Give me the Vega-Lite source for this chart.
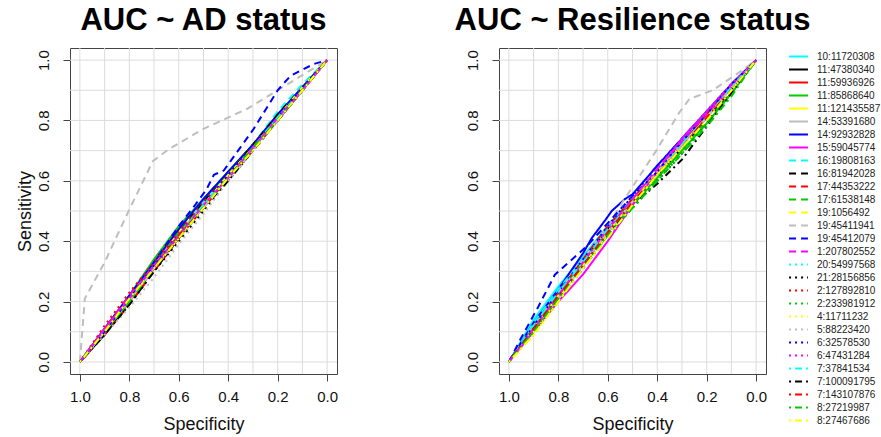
{
"$schema": "https://vega.github.io/schema/vega-lite/v6.json",
"background": "white",
"padding": {"left": 15, "top": 4, "right": 5, "bottom": 5},
"config": {
 "font": "Liberation Sans",
 "view": {"stroke": "#444", "strokeWidth": 1},
 "title": {"fontSize": 31, "fontWeight": "bold", "color": "#000", "anchor": "middle", "offset": 11, "font": "Liberation Sans"},
 "axis": {"grid": false, "domain": false, "tickColor": "#444", "tickSize": 7, "labelFontSize": 15, "labelColor": "#111", "titleFontSize": 18, "titleFontWeight": "normal", "titleColor": "#111", "labelFont": "Liberation Sans", "titleFont": "Liberation Sans"},
 "legend": {"symbolType": "M-2.1,0H2.1", "symbolSize": 81, "symbolStrokeWidth": 2, "labelFontSize": 10, "labelColor": "#222", "labelFont": "Liberation Sans", "padding": 0, "rowPadding": 2, "labelOffset": 13, "orient": "none", "legendX": 723, "legendY": 3}
},
"datasets": {
 "grid": [{"g":0},{"g":0.1},{"g":0.2},{"g":0.3},{"g":0.4},{"g":0.5},{"g":0.6},{"g":0.7},{"g":0.8},{"g":0.9},{"g":1}],
 "ad": [
{"s":"10:11720308","x":1,"y":0},{"s":"10:11720308","x":0.9,"y":0.1},{"s":"10:11720308","x":0.8,"y":0.21},{"s":"10:11720308","x":0.7,"y":0.32},{"s":"10:11720308","x":0.6,"y":0.42},{"s":"10:11720308","x":0.5,"y":0.53},{"s":"10:11720308","x":0.4,"y":0.62},{"s":"10:11720308","x":0.3,"y":0.72},{"s":"10:11720308","x":0.2,"y":0.81},{"s":"10:11720308","x":0.1,"y":0.91},{"s":"10:11720308","x":0,"y":1},
{"s":"11:47380340","x":1,"y":0},{"s":"11:47380340","x":0.9,"y":0.09},{"s":"11:47380340","x":0.8,"y":0.2},{"s":"11:47380340","x":0.7,"y":0.31},{"s":"11:47380340","x":0.6,"y":0.42},{"s":"11:47380340","x":0.5,"y":0.52},{"s":"11:47380340","x":0.4,"y":0.61},{"s":"11:47380340","x":0.3,"y":0.71},{"s":"11:47380340","x":0.2,"y":0.8},{"s":"11:47380340","x":0.1,"y":0.9},{"s":"11:47380340","x":0,"y":1},
{"s":"11:59936926","x":1,"y":0},{"s":"11:59936926","x":0.9,"y":0.1},{"s":"11:59936926","x":0.8,"y":0.2},{"s":"11:59936926","x":0.7,"y":0.31},{"s":"11:59936926","x":0.6,"y":0.41},{"s":"11:59936926","x":0.5,"y":0.52},{"s":"11:59936926","x":0.4,"y":0.61},{"s":"11:59936926","x":0.3,"y":0.71},{"s":"11:59936926","x":0.2,"y":0.81},{"s":"11:59936926","x":0.1,"y":0.9},{"s":"11:59936926","x":0,"y":1},
{"s":"11:85868640","x":1,"y":0},{"s":"11:85868640","x":0.9,"y":0.11},{"s":"11:85868640","x":0.8,"y":0.22},{"s":"11:85868640","x":0.7,"y":0.34},{"s":"11:85868640","x":0.6,"y":0.45},{"s":"11:85868640","x":0.5,"y":0.54},{"s":"11:85868640","x":0.4,"y":0.63},{"s":"11:85868640","x":0.3,"y":0.72},{"s":"11:85868640","x":0.2,"y":0.81},{"s":"11:85868640","x":0.1,"y":0.91},{"s":"11:85868640","x":0,"y":1},
{"s":"11:121435587","x":1,"y":0},{"s":"11:121435587","x":0.9,"y":0.1},{"s":"11:121435587","x":0.8,"y":0.21},{"s":"11:121435587","x":0.7,"y":0.32},{"s":"11:121435587","x":0.6,"y":0.43},{"s":"11:121435587","x":0.5,"y":0.52},{"s":"11:121435587","x":0.4,"y":0.62},{"s":"11:121435587","x":0.3,"y":0.71},{"s":"11:121435587","x":0.2,"y":0.81},{"s":"11:121435587","x":0.1,"y":0.9},{"s":"11:121435587","x":0,"y":1},
{"s":"14:53391680","x":1,"y":0},{"s":"14:53391680","x":0.9,"y":0.1},{"s":"14:53391680","x":0.8,"y":0.2},{"s":"14:53391680","x":0.7,"y":0.31},{"s":"14:53391680","x":0.6,"y":0.42},{"s":"14:53391680","x":0.5,"y":0.51},{"s":"14:53391680","x":0.4,"y":0.61},{"s":"14:53391680","x":0.3,"y":0.71},{"s":"14:53391680","x":0.2,"y":0.8},{"s":"14:53391680","x":0.1,"y":0.9},{"s":"14:53391680","x":0,"y":1},
{"s":"14:92932828","x":1,"y":0},{"s":"14:92932828","x":0.9,"y":0.11},{"s":"14:92932828","x":0.8,"y":0.22},{"s":"14:92932828","x":0.7,"y":0.33},{"s":"14:92932828","x":0.6,"y":0.44},{"s":"14:92932828","x":0.5,"y":0.54},{"s":"14:92932828","x":0.4,"y":0.63},{"s":"14:92932828","x":0.3,"y":0.72},{"s":"14:92932828","x":0.2,"y":0.82},{"s":"14:92932828","x":0.1,"y":0.91},{"s":"14:92932828","x":0,"y":1},
{"s":"15:59045774","x":1,"y":0},{"s":"15:59045774","x":0.9,"y":0.11},{"s":"15:59045774","x":0.8,"y":0.21},{"s":"15:59045774","x":0.7,"y":0.32},{"s":"15:59045774","x":0.6,"y":0.42},{"s":"15:59045774","x":0.5,"y":0.52},{"s":"15:59045774","x":0.4,"y":0.61},{"s":"15:59045774","x":0.3,"y":0.71},{"s":"15:59045774","x":0.2,"y":0.81},{"s":"15:59045774","x":0.1,"y":0.9},{"s":"15:59045774","x":0,"y":1},
{"s":"16:19808163","x":1,"y":0},{"s":"16:19808163","x":0.9,"y":0.1},{"s":"16:19808163","x":0.8,"y":0.21},{"s":"16:19808163","x":0.7,"y":0.31},{"s":"16:19808163","x":0.6,"y":0.42},{"s":"16:19808163","x":0.5,"y":0.52},{"s":"16:19808163","x":0.4,"y":0.62},{"s":"16:19808163","x":0.3,"y":0.72},{"s":"16:19808163","x":0.2,"y":0.83},{"s":"16:19808163","x":0.1,"y":0.92},{"s":"16:19808163","x":0,"y":1},
{"s":"16:81942028","x":1,"y":0},{"s":"16:81942028","x":0.9,"y":0.1},{"s":"16:81942028","x":0.8,"y":0.21},{"s":"16:81942028","x":0.7,"y":0.32},{"s":"16:81942028","x":0.6,"y":0.43},{"s":"16:81942028","x":0.5,"y":0.53},{"s":"16:81942028","x":0.4,"y":0.62},{"s":"16:81942028","x":0.3,"y":0.72},{"s":"16:81942028","x":0.2,"y":0.82},{"s":"16:81942028","x":0.1,"y":0.91},{"s":"16:81942028","x":0,"y":1},
{"s":"17:44353222","x":1,"y":0},{"s":"17:44353222","x":0.9,"y":0.09},{"s":"17:44353222","x":0.8,"y":0.19},{"s":"17:44353222","x":0.7,"y":0.3},{"s":"17:44353222","x":0.6,"y":0.41},{"s":"17:44353222","x":0.5,"y":0.51},{"s":"17:44353222","x":0.4,"y":0.61},{"s":"17:44353222","x":0.3,"y":0.7},{"s":"17:44353222","x":0.2,"y":0.8},{"s":"17:44353222","x":0.1,"y":0.9},{"s":"17:44353222","x":0,"y":1},
{"s":"17:61538148","x":1,"y":0},{"s":"17:61538148","x":0.9,"y":0.1},{"s":"17:61538148","x":0.8,"y":0.21},{"s":"17:61538148","x":0.7,"y":0.32},{"s":"17:61538148","x":0.6,"y":0.43},{"s":"17:61538148","x":0.5,"y":0.52},{"s":"17:61538148","x":0.4,"y":0.61},{"s":"17:61538148","x":0.3,"y":0.71},{"s":"17:61538148","x":0.2,"y":0.8},{"s":"17:61538148","x":0.1,"y":0.9},{"s":"17:61538148","x":0,"y":1},
{"s":"19:1056492","x":1,"y":0},{"s":"19:1056492","x":0.9,"y":0.1},{"s":"19:1056492","x":0.8,"y":0.21},{"s":"19:1056492","x":0.7,"y":0.31},{"s":"19:1056492","x":0.6,"y":0.42},{"s":"19:1056492","x":0.5,"y":0.52},{"s":"19:1056492","x":0.4,"y":0.62},{"s":"19:1056492","x":0.3,"y":0.71},{"s":"19:1056492","x":0.2,"y":0.81},{"s":"19:1056492","x":0.1,"y":0.91},{"s":"19:1056492","x":0,"y":1},
{"s":"19:45411941","x":1,"y":0},{"s":"19:45411941","x":0.98,"y":0.21},{"s":"19:45411941","x":0.9,"y":0.33},{"s":"19:45411941","x":0.8,"y":0.505},{"s":"19:45411941","x":0.705,"y":0.665},{"s":"19:45411941","x":0.64,"y":0.705},{"s":"19:45411941","x":0.5,"y":0.772},{"s":"19:45411941","x":0.32,"y":0.84},{"s":"19:45411941","x":0.2,"y":0.9},{"s":"19:45411941","x":0.1,"y":0.95},{"s":"19:45411941","x":0,"y":1},
{"s":"19:45412079","x":1,"y":0},{"s":"19:45412079","x":0.9,"y":0.1},{"s":"19:45412079","x":0.8,"y":0.21},{"s":"19:45412079","x":0.7,"y":0.33},{"s":"19:45412079","x":0.6,"y":0.45},{"s":"19:45412079","x":0.543,"y":0.51},{"s":"19:45412079","x":0.489,"y":0.57},{"s":"19:45412079","x":0.458,"y":0.62},{"s":"19:45412079","x":0.418,"y":0.634},{"s":"19:45412079","x":0.297,"y":0.772},{"s":"19:45412079","x":0.2,"y":0.9},{"s":"19:45412079","x":0.148,"y":0.948},{"s":"19:45412079","x":0.054,"y":0.987},{"s":"19:45412079","x":0,"y":1},
{"s":"1:207802552","x":1,"y":0},{"s":"1:207802552","x":0.9,"y":0.11},{"s":"1:207802552","x":0.8,"y":0.22},{"s":"1:207802552","x":0.7,"y":0.32},{"s":"1:207802552","x":0.6,"y":0.42},{"s":"1:207802552","x":0.5,"y":0.52},{"s":"1:207802552","x":0.4,"y":0.61},{"s":"1:207802552","x":0.3,"y":0.71},{"s":"1:207802552","x":0.2,"y":0.81},{"s":"1:207802552","x":0.1,"y":0.9},{"s":"1:207802552","x":0,"y":1},
{"s":"20:54997568","x":1,"y":0},{"s":"20:54997568","x":0.9,"y":0.1},{"s":"20:54997568","x":0.8,"y":0.21},{"s":"20:54997568","x":0.7,"y":0.32},{"s":"20:54997568","x":0.6,"y":0.42},{"s":"20:54997568","x":0.5,"y":0.52},{"s":"20:54997568","x":0.4,"y":0.62},{"s":"20:54997568","x":0.3,"y":0.71},{"s":"20:54997568","x":0.2,"y":0.81},{"s":"20:54997568","x":0.1,"y":0.91},{"s":"20:54997568","x":0,"y":1},
{"s":"21:28156856","x":1,"y":0},{"s":"21:28156856","x":0.9,"y":0.09},{"s":"21:28156856","x":0.8,"y":0.19},{"s":"21:28156856","x":0.7,"y":0.3},{"s":"21:28156856","x":0.6,"y":0.4},{"s":"21:28156856","x":0.5,"y":0.5},{"s":"21:28156856","x":0.4,"y":0.6},{"s":"21:28156856","x":0.3,"y":0.7},{"s":"21:28156856","x":0.2,"y":0.8},{"s":"21:28156856","x":0.1,"y":0.9},{"s":"21:28156856","x":0,"y":1},
{"s":"2:127892810","x":1,"y":0},{"s":"2:127892810","x":0.9,"y":0.12},{"s":"2:127892810","x":0.8,"y":0.23},{"s":"2:127892810","x":0.7,"y":0.33},{"s":"2:127892810","x":0.6,"y":0.43},{"s":"2:127892810","x":0.5,"y":0.53},{"s":"2:127892810","x":0.4,"y":0.62},{"s":"2:127892810","x":0.3,"y":0.72},{"s":"2:127892810","x":0.2,"y":0.81},{"s":"2:127892810","x":0.1,"y":0.91},{"s":"2:127892810","x":0,"y":1},
{"s":"2:233981912","x":1,"y":0},{"s":"2:233981912","x":0.9,"y":0.1},{"s":"2:233981912","x":0.8,"y":0.2},{"s":"2:233981912","x":0.7,"y":0.31},{"s":"2:233981912","x":0.6,"y":0.41},{"s":"2:233981912","x":0.5,"y":0.51},{"s":"2:233981912","x":0.4,"y":0.61},{"s":"2:233981912","x":0.3,"y":0.7},{"s":"2:233981912","x":0.2,"y":0.8},{"s":"2:233981912","x":0.1,"y":0.9},{"s":"2:233981912","x":0,"y":1},
{"s":"4:11711232","x":1,"y":0},{"s":"4:11711232","x":0.9,"y":0.1},{"s":"4:11711232","x":0.8,"y":0.21},{"s":"4:11711232","x":0.7,"y":0.31},{"s":"4:11711232","x":0.6,"y":0.41},{"s":"4:11711232","x":0.5,"y":0.52},{"s":"4:11711232","x":0.4,"y":0.61},{"s":"4:11711232","x":0.3,"y":0.71},{"s":"4:11711232","x":0.2,"y":0.8},{"s":"4:11711232","x":0.1,"y":0.9},{"s":"4:11711232","x":0,"y":1},
{"s":"5:88223420","x":1,"y":0},{"s":"5:88223420","x":0.9,"y":0.09},{"s":"5:88223420","x":0.8,"y":0.18},{"s":"5:88223420","x":0.7,"y":0.28},{"s":"5:88223420","x":0.6,"y":0.39},{"s":"5:88223420","x":0.5,"y":0.49},{"s":"5:88223420","x":0.4,"y":0.6},{"s":"5:88223420","x":0.3,"y":0.7},{"s":"5:88223420","x":0.2,"y":0.8},{"s":"5:88223420","x":0.1,"y":0.9},{"s":"5:88223420","x":0,"y":1},
{"s":"6:32578530","x":1,"y":0},{"s":"6:32578530","x":0.9,"y":0.1},{"s":"6:32578530","x":0.8,"y":0.21},{"s":"6:32578530","x":0.7,"y":0.32},{"s":"6:32578530","x":0.6,"y":0.42},{"s":"6:32578530","x":0.5,"y":0.52},{"s":"6:32578530","x":0.4,"y":0.62},{"s":"6:32578530","x":0.3,"y":0.72},{"s":"6:32578530","x":0.2,"y":0.81},{"s":"6:32578530","x":0.1,"y":0.91},{"s":"6:32578530","x":0,"y":1},
{"s":"6:47431284","x":1,"y":0},{"s":"6:47431284","x":0.9,"y":0.11},{"s":"6:47431284","x":0.8,"y":0.21},{"s":"6:47431284","x":0.7,"y":0.31},{"s":"6:47431284","x":0.6,"y":0.42},{"s":"6:47431284","x":0.5,"y":0.52},{"s":"6:47431284","x":0.4,"y":0.61},{"s":"6:47431284","x":0.3,"y":0.71},{"s":"6:47431284","x":0.2,"y":0.8},{"s":"6:47431284","x":0.1,"y":0.9},{"s":"6:47431284","x":0,"y":1},
{"s":"7:37841534","x":1,"y":0},{"s":"7:37841534","x":0.9,"y":0.1},{"s":"7:37841534","x":0.8,"y":0.2},{"s":"7:37841534","x":0.7,"y":0.31},{"s":"7:37841534","x":0.6,"y":0.42},{"s":"7:37841534","x":0.5,"y":0.52},{"s":"7:37841534","x":0.4,"y":0.61},{"s":"7:37841534","x":0.3,"y":0.71},{"s":"7:37841534","x":0.2,"y":0.81},{"s":"7:37841534","x":0.1,"y":0.9},{"s":"7:37841534","x":0,"y":1},
{"s":"7:100091795","x":1,"y":0},{"s":"7:100091795","x":0.9,"y":0.09},{"s":"7:100091795","x":0.8,"y":0.19},{"s":"7:100091795","x":0.7,"y":0.3},{"s":"7:100091795","x":0.6,"y":0.41},{"s":"7:100091795","x":0.5,"y":0.51},{"s":"7:100091795","x":0.4,"y":0.6},{"s":"7:100091795","x":0.3,"y":0.7},{"s":"7:100091795","x":0.2,"y":0.8},{"s":"7:100091795","x":0.1,"y":0.9},{"s":"7:100091795","x":0,"y":1},
{"s":"7:143107876","x":1,"y":0},{"s":"7:143107876","x":0.9,"y":0.1},{"s":"7:143107876","x":0.8,"y":0.21},{"s":"7:143107876","x":0.7,"y":0.31},{"s":"7:143107876","x":0.6,"y":0.42},{"s":"7:143107876","x":0.5,"y":0.51},{"s":"7:143107876","x":0.4,"y":0.61},{"s":"7:143107876","x":0.3,"y":0.71},{"s":"7:143107876","x":0.2,"y":0.8},{"s":"7:143107876","x":0.1,"y":0.9},{"s":"7:143107876","x":0,"y":1},
{"s":"8:27219987","x":1,"y":0},{"s":"8:27219987","x":0.9,"y":0.1},{"s":"8:27219987","x":0.8,"y":0.2},{"s":"8:27219987","x":0.7,"y":0.31},{"s":"8:27219987","x":0.6,"y":0.41},{"s":"8:27219987","x":0.5,"y":0.51},{"s":"8:27219987","x":0.4,"y":0.61},{"s":"8:27219987","x":0.3,"y":0.71},{"s":"8:27219987","x":0.2,"y":0.8},{"s":"8:27219987","x":0.1,"y":0.9},{"s":"8:27219987","x":0,"y":1},
{"s":"8:27467686","x":1,"y":0},{"s":"8:27467686","x":0.9,"y":0.1},{"s":"8:27467686","x":0.8,"y":0.21},{"s":"8:27467686","x":0.7,"y":0.31},{"s":"8:27467686","x":0.6,"y":0.41},{"s":"8:27467686","x":0.5,"y":0.51},{"s":"8:27467686","x":0.4,"y":0.61},{"s":"8:27467686","x":0.3,"y":0.7},{"s":"8:27467686","x":0.2,"y":0.8},{"s":"8:27467686","x":0.1,"y":0.9},{"s":"8:27467686","x":0,"y":1}
 ],
 "res": [
{"s":"10:11720308","x":1,"y":0},{"s":"10:11720308","x":0.9,"y":0.14},{"s":"10:11720308","x":0.8,"y":0.25},{"s":"10:11720308","x":0.7,"y":0.35},{"s":"10:11720308","x":0.6,"y":0.45},{"s":"10:11720308","x":0.5,"y":0.54},{"s":"10:11720308","x":0.4,"y":0.63},{"s":"10:11720308","x":0.3,"y":0.73},{"s":"10:11720308","x":0.2,"y":0.82},{"s":"10:11720308","x":0.1,"y":0.91},{"s":"10:11720308","x":0,"y":1},
{"s":"11:47380340","x":1,"y":0},{"s":"11:47380340","x":0.9,"y":0.12},{"s":"11:47380340","x":0.8,"y":0.23},{"s":"11:47380340","x":0.7,"y":0.33},{"s":"11:47380340","x":0.6,"y":0.44},{"s":"11:47380340","x":0.5,"y":0.53},{"s":"11:47380340","x":0.4,"y":0.62},{"s":"11:47380340","x":0.3,"y":0.72},{"s":"11:47380340","x":0.2,"y":0.81},{"s":"11:47380340","x":0.1,"y":0.91},{"s":"11:47380340","x":0,"y":1},
{"s":"11:59936926","x":1,"y":0},{"s":"11:59936926","x":0.9,"y":0.12},{"s":"11:59936926","x":0.8,"y":0.23},{"s":"11:59936926","x":0.7,"y":0.34},{"s":"11:59936926","x":0.6,"y":0.45},{"s":"11:59936926","x":0.5,"y":0.54},{"s":"11:59936926","x":0.4,"y":0.63},{"s":"11:59936926","x":0.3,"y":0.72},{"s":"11:59936926","x":0.2,"y":0.82},{"s":"11:59936926","x":0.1,"y":0.91},{"s":"11:59936926","x":0,"y":1},
{"s":"11:85868640","x":1,"y":0},{"s":"11:85868640","x":0.9,"y":0.11},{"s":"11:85868640","x":0.8,"y":0.22},{"s":"11:85868640","x":0.7,"y":0.33},{"s":"11:85868640","x":0.6,"y":0.43},{"s":"11:85868640","x":0.5,"y":0.52},{"s":"11:85868640","x":0.4,"y":0.61},{"s":"11:85868640","x":0.3,"y":0.7},{"s":"11:85868640","x":0.2,"y":0.79},{"s":"11:85868640","x":0.1,"y":0.89},{"s":"11:85868640","x":0,"y":1},
{"s":"11:121435587","x":1,"y":0},{"s":"11:121435587","x":0.9,"y":0.11},{"s":"11:121435587","x":0.8,"y":0.22},{"s":"11:121435587","x":0.7,"y":0.32},{"s":"11:121435587","x":0.6,"y":0.43},{"s":"11:121435587","x":0.5,"y":0.53},{"s":"11:121435587","x":0.4,"y":0.62},{"s":"11:121435587","x":0.3,"y":0.72},{"s":"11:121435587","x":0.2,"y":0.81},{"s":"11:121435587","x":0.1,"y":0.91},{"s":"11:121435587","x":0,"y":1},
{"s":"14:53391680","x":1,"y":0},{"s":"14:53391680","x":0.9,"y":0.11},{"s":"14:53391680","x":0.8,"y":0.21},{"s":"14:53391680","x":0.7,"y":0.32},{"s":"14:53391680","x":0.6,"y":0.43},{"s":"14:53391680","x":0.5,"y":0.53},{"s":"14:53391680","x":0.4,"y":0.63},{"s":"14:53391680","x":0.3,"y":0.72},{"s":"14:53391680","x":0.2,"y":0.81},{"s":"14:53391680","x":0.1,"y":0.91},{"s":"14:53391680","x":0,"y":1},
{"s":"14:92932828","x":1,"y":0},{"s":"14:92932828","x":0.9,"y":0.13},{"s":"14:92932828","x":0.8,"y":0.24},{"s":"14:92932828","x":0.7,"y":0.36},{"s":"14:92932828","x":0.665,"y":0.41},{"s":"14:92932828","x":0.61,"y":0.47},{"s":"14:92932828","x":0.584,"y":0.5},{"s":"14:92932828","x":0.53,"y":0.54},{"s":"14:92932828","x":0.5,"y":0.555},{"s":"14:92932828","x":0.4,"y":0.65},{"s":"14:92932828","x":0.3,"y":0.74},{"s":"14:92932828","x":0.2,"y":0.83},{"s":"14:92932828","x":0.1,"y":0.92},{"s":"14:92932828","x":0,"y":1},
{"s":"15:59045774","x":1,"y":0},{"s":"15:59045774","x":0.9,"y":0.1},{"s":"15:59045774","x":0.8,"y":0.2},{"s":"15:59045774","x":0.7,"y":0.29},{"s":"15:59045774","x":0.6,"y":0.4},{"s":"15:59045774","x":0.5,"y":0.52},{"s":"15:59045774","x":0.4,"y":0.63},{"s":"15:59045774","x":0.3,"y":0.74},{"s":"15:59045774","x":0.2,"y":0.83},{"s":"15:59045774","x":0.1,"y":0.92},{"s":"15:59045774","x":0,"y":1},
{"s":"16:19808163","x":1,"y":0},{"s":"16:19808163","x":0.9,"y":0.13},{"s":"16:19808163","x":0.8,"y":0.24},{"s":"16:19808163","x":0.7,"y":0.34},{"s":"16:19808163","x":0.6,"y":0.45},{"s":"16:19808163","x":0.5,"y":0.54},{"s":"16:19808163","x":0.4,"y":0.63},{"s":"16:19808163","x":0.3,"y":0.73},{"s":"16:19808163","x":0.2,"y":0.82},{"s":"16:19808163","x":0.1,"y":0.91},{"s":"16:19808163","x":0,"y":1},
{"s":"16:81942028","x":1,"y":0},{"s":"16:81942028","x":0.9,"y":0.11},{"s":"16:81942028","x":0.8,"y":0.22},{"s":"16:81942028","x":0.7,"y":0.32},{"s":"16:81942028","x":0.6,"y":0.43},{"s":"16:81942028","x":0.5,"y":0.52},{"s":"16:81942028","x":0.4,"y":0.61},{"s":"16:81942028","x":0.3,"y":0.71},{"s":"16:81942028","x":0.2,"y":0.8},{"s":"16:81942028","x":0.1,"y":0.9},{"s":"16:81942028","x":0,"y":1},
{"s":"17:44353222","x":1,"y":0},{"s":"17:44353222","x":0.9,"y":0.12},{"s":"17:44353222","x":0.8,"y":0.23},{"s":"17:44353222","x":0.7,"y":0.33},{"s":"17:44353222","x":0.6,"y":0.44},{"s":"17:44353222","x":0.5,"y":0.53},{"s":"17:44353222","x":0.4,"y":0.63},{"s":"17:44353222","x":0.3,"y":0.72},{"s":"17:44353222","x":0.2,"y":0.81},{"s":"17:44353222","x":0.1,"y":0.91},{"s":"17:44353222","x":0,"y":1},
{"s":"17:61538148","x":1,"y":0},{"s":"17:61538148","x":0.9,"y":0.11},{"s":"17:61538148","x":0.8,"y":0.21},{"s":"17:61538148","x":0.7,"y":0.32},{"s":"17:61538148","x":0.6,"y":0.42},{"s":"17:61538148","x":0.5,"y":0.52},{"s":"17:61538148","x":0.4,"y":0.61},{"s":"17:61538148","x":0.3,"y":0.7},{"s":"17:61538148","x":0.2,"y":0.8},{"s":"17:61538148","x":0.1,"y":0.89},{"s":"17:61538148","x":0,"y":1},
{"s":"19:1056492","x":1,"y":0},{"s":"19:1056492","x":0.9,"y":0.1},{"s":"19:1056492","x":0.8,"y":0.21},{"s":"19:1056492","x":0.7,"y":0.32},{"s":"19:1056492","x":0.6,"y":0.43},{"s":"19:1056492","x":0.5,"y":0.53},{"s":"19:1056492","x":0.4,"y":0.63},{"s":"19:1056492","x":0.3,"y":0.72},{"s":"19:1056492","x":0.2,"y":0.82},{"s":"19:1056492","x":0.1,"y":0.91},{"s":"19:1056492","x":0,"y":1},
{"s":"19:45411941","x":1,"y":0},{"s":"19:45411941","x":0.9,"y":0.12},{"s":"19:45411941","x":0.8,"y":0.23},{"s":"19:45411941","x":0.7,"y":0.34},{"s":"19:45411941","x":0.6,"y":0.45},{"s":"19:45411941","x":0.54,"y":0.53},{"s":"19:45411941","x":0.5,"y":0.58},{"s":"19:45411941","x":0.404,"y":0.7},{"s":"19:45411941","x":0.31,"y":0.827},{"s":"19:45411941","x":0.27,"y":0.871},{"s":"19:45411941","x":0.175,"y":0.9},{"s":"19:45411941","x":0.067,"y":0.96},{"s":"19:45411941","x":0,"y":1},
{"s":"19:45412079","x":1,"y":0},{"s":"19:45412079","x":0.95,"y":0.08},{"s":"19:45412079","x":0.881,"y":0.183},{"s":"19:45412079","x":0.814,"y":0.289},{"s":"19:45412079","x":0.685,"y":0.383},{"s":"19:45412079","x":0.6,"y":0.46},{"s":"19:45412079","x":0.5,"y":0.55},{"s":"19:45412079","x":0.4,"y":0.63},{"s":"19:45412079","x":0.3,"y":0.73},{"s":"19:45412079","x":0.2,"y":0.82},{"s":"19:45412079","x":0.1,"y":0.92},{"s":"19:45412079","x":0,"y":1},
{"s":"1:207802552","x":1,"y":0},{"s":"1:207802552","x":0.9,"y":0.11},{"s":"1:207802552","x":0.8,"y":0.22},{"s":"1:207802552","x":0.7,"y":0.33},{"s":"1:207802552","x":0.6,"y":0.44},{"s":"1:207802552","x":0.5,"y":0.54},{"s":"1:207802552","x":0.4,"y":0.64},{"s":"1:207802552","x":0.3,"y":0.73},{"s":"1:207802552","x":0.2,"y":0.82},{"s":"1:207802552","x":0.1,"y":0.91},{"s":"1:207802552","x":0,"y":1},
{"s":"20:54997568","x":1,"y":0},{"s":"20:54997568","x":0.9,"y":0.12},{"s":"20:54997568","x":0.8,"y":0.23},{"s":"20:54997568","x":0.7,"y":0.34},{"s":"20:54997568","x":0.6,"y":0.45},{"s":"20:54997568","x":0.5,"y":0.55},{"s":"20:54997568","x":0.4,"y":0.64},{"s":"20:54997568","x":0.3,"y":0.74},{"s":"20:54997568","x":0.2,"y":0.83},{"s":"20:54997568","x":0.1,"y":0.92},{"s":"20:54997568","x":0,"y":1},
{"s":"21:28156856","x":1,"y":0},{"s":"21:28156856","x":0.9,"y":0.1},{"s":"21:28156856","x":0.8,"y":0.2},{"s":"21:28156856","x":0.7,"y":0.31},{"s":"21:28156856","x":0.6,"y":0.42},{"s":"21:28156856","x":0.5,"y":0.51},{"s":"21:28156856","x":0.4,"y":0.6},{"s":"21:28156856","x":0.3,"y":0.69},{"s":"21:28156856","x":0.2,"y":0.79},{"s":"21:28156856","x":0.1,"y":0.9},{"s":"21:28156856","x":0,"y":1},
{"s":"2:127892810","x":1,"y":0},{"s":"2:127892810","x":0.9,"y":0.11},{"s":"2:127892810","x":0.8,"y":0.22},{"s":"2:127892810","x":0.7,"y":0.33},{"s":"2:127892810","x":0.6,"y":0.44},{"s":"2:127892810","x":0.5,"y":0.53},{"s":"2:127892810","x":0.4,"y":0.63},{"s":"2:127892810","x":0.3,"y":0.72},{"s":"2:127892810","x":0.2,"y":0.82},{"s":"2:127892810","x":0.1,"y":0.91},{"s":"2:127892810","x":0,"y":1},
{"s":"2:233981912","x":1,"y":0},{"s":"2:233981912","x":0.9,"y":0.1},{"s":"2:233981912","x":0.8,"y":0.21},{"s":"2:233981912","x":0.7,"y":0.31},{"s":"2:233981912","x":0.6,"y":0.42},{"s":"2:233981912","x":0.5,"y":0.51},{"s":"2:233981912","x":0.4,"y":0.6},{"s":"2:233981912","x":0.3,"y":0.69},{"s":"2:233981912","x":0.2,"y":0.79},{"s":"2:233981912","x":0.1,"y":0.89},{"s":"2:233981912","x":0,"y":1},
{"s":"4:11711232","x":1,"y":0},{"s":"4:11711232","x":0.9,"y":0.09},{"s":"4:11711232","x":0.8,"y":0.2},{"s":"4:11711232","x":0.7,"y":0.31},{"s":"4:11711232","x":0.6,"y":0.42},{"s":"4:11711232","x":0.5,"y":0.52},{"s":"4:11711232","x":0.4,"y":0.62},{"s":"4:11711232","x":0.3,"y":0.71},{"s":"4:11711232","x":0.2,"y":0.81},{"s":"4:11711232","x":0.1,"y":0.9},{"s":"4:11711232","x":0,"y":1},
{"s":"5:88223420","x":1,"y":0},{"s":"5:88223420","x":0.9,"y":0.11},{"s":"5:88223420","x":0.8,"y":0.22},{"s":"5:88223420","x":0.7,"y":0.33},{"s":"5:88223420","x":0.6,"y":0.43},{"s":"5:88223420","x":0.5,"y":0.53},{"s":"5:88223420","x":0.4,"y":0.63},{"s":"5:88223420","x":0.3,"y":0.72},{"s":"5:88223420","x":0.2,"y":0.81},{"s":"5:88223420","x":0.1,"y":0.91},{"s":"5:88223420","x":0,"y":1},
{"s":"6:32578530","x":1,"y":0},{"s":"6:32578530","x":0.9,"y":0.12},{"s":"6:32578530","x":0.8,"y":0.23},{"s":"6:32578530","x":0.7,"y":0.34},{"s":"6:32578530","x":0.6,"y":0.45},{"s":"6:32578530","x":0.5,"y":0.55},{"s":"6:32578530","x":0.4,"y":0.65},{"s":"6:32578530","x":0.3,"y":0.74},{"s":"6:32578530","x":0.2,"y":0.83},{"s":"6:32578530","x":0.1,"y":0.92},{"s":"6:32578530","x":0,"y":1},
{"s":"6:47431284","x":1,"y":0},{"s":"6:47431284","x":0.9,"y":0.11},{"s":"6:47431284","x":0.8,"y":0.22},{"s":"6:47431284","x":0.7,"y":0.33},{"s":"6:47431284","x":0.6,"y":0.44},{"s":"6:47431284","x":0.5,"y":0.54},{"s":"6:47431284","x":0.4,"y":0.64},{"s":"6:47431284","x":0.3,"y":0.74},{"s":"6:47431284","x":0.2,"y":0.83},{"s":"6:47431284","x":0.1,"y":0.92},{"s":"6:47431284","x":0,"y":1},
{"s":"7:37841534","x":1,"y":0},{"s":"7:37841534","x":0.9,"y":0.12},{"s":"7:37841534","x":0.8,"y":0.23},{"s":"7:37841534","x":0.7,"y":0.33},{"s":"7:37841534","x":0.6,"y":0.44},{"s":"7:37841534","x":0.5,"y":0.53},{"s":"7:37841534","x":0.4,"y":0.62},{"s":"7:37841534","x":0.3,"y":0.72},{"s":"7:37841534","x":0.2,"y":0.81},{"s":"7:37841534","x":0.1,"y":0.91},{"s":"7:37841534","x":0,"y":1},
{"s":"7:100091795","x":1,"y":0},{"s":"7:100091795","x":0.9,"y":0.11},{"s":"7:100091795","x":0.8,"y":0.21},{"s":"7:100091795","x":0.7,"y":0.32},{"s":"7:100091795","x":0.6,"y":0.42},{"s":"7:100091795","x":0.5,"y":0.52},{"s":"7:100091795","x":0.4,"y":0.59},{"s":"7:100091795","x":0.3,"y":0.67},{"s":"7:100091795","x":0.2,"y":0.78},{"s":"7:100091795","x":0.1,"y":0.89},{"s":"7:100091795","x":0,"y":1},
{"s":"7:143107876","x":1,"y":0},{"s":"7:143107876","x":0.9,"y":0.11},{"s":"7:143107876","x":0.8,"y":0.22},{"s":"7:143107876","x":0.7,"y":0.32},{"s":"7:143107876","x":0.6,"y":0.43},{"s":"7:143107876","x":0.5,"y":0.53},{"s":"7:143107876","x":0.4,"y":0.62},{"s":"7:143107876","x":0.3,"y":0.71},{"s":"7:143107876","x":0.2,"y":0.81},{"s":"7:143107876","x":0.1,"y":0.9},{"s":"7:143107876","x":0,"y":1},
{"s":"8:27219987","x":1,"y":0},{"s":"8:27219987","x":0.9,"y":0.1},{"s":"8:27219987","x":0.8,"y":0.21},{"s":"8:27219987","x":0.7,"y":0.31},{"s":"8:27219987","x":0.6,"y":0.42},{"s":"8:27219987","x":0.5,"y":0.51},{"s":"8:27219987","x":0.4,"y":0.6},{"s":"8:27219987","x":0.3,"y":0.69},{"s":"8:27219987","x":0.2,"y":0.78},{"s":"8:27219987","x":0.1,"y":0.88},{"s":"8:27219987","x":0,"y":1},
{"s":"8:27467686","x":1,"y":0},{"s":"8:27467686","x":0.9,"y":0.09},{"s":"8:27467686","x":0.8,"y":0.2},{"s":"8:27467686","x":0.7,"y":0.31},{"s":"8:27467686","x":0.6,"y":0.41},{"s":"8:27467686","x":0.5,"y":0.52},{"s":"8:27467686","x":0.4,"y":0.62},{"s":"8:27467686","x":0.3,"y":0.71},{"s":"8:27467686","x":0.2,"y":0.8},{"s":"8:27467686","x":0.1,"y":0.9},{"s":"8:27467686","x":0,"y":1}
 ]
},
"spacing": 115,
"hconcat": [
 {
  "title": "AUC ~ AD status",
  "width": 267, "height": 326,
  "layer": [
   {"data": {"name": "grid"}, "mark": {"type": "rule", "color": "#dcdcdc", "strokeWidth": 1},
    "encoding": {"x": {"field": "g", "type": "quantitative", "scale": {"domain": [-0.04, 1.04], "reverse": true, "nice": false, "zero": false},
      "axis": {"title": "Specificity", "values": [0, 0.2, 0.4, 0.6, 0.8, 1], "format": ".1f", "labelPadding": 8, "titleY": 55, "titleBaseline": "alphabetic", "labelFlush": false, "labelOverlap": false}}}},
   {"data": {"name": "grid"}, "mark": {"type": "rule", "color": "#dcdcdc", "strokeWidth": 1},
    "encoding": {"y": {"field": "g", "type": "quantitative", "scale": {"domain": [-0.04, 1.04], "nice": false, "zero": false},
      "axis": {"title": "Sensitivity", "values": [0, 0.2, 0.4, 0.6, 0.8, 1], "format": ".1f", "labelAngle": -90, "labelAlign": "center", "labelBaseline": "bottom", "labelPadding": 12, "titleX": -40, "titleY": 163, "titleBaseline": "alphabetic", "titleAngle": -90, "labelFlush": false, "labelOverlap": false}}}},
   {"data": {"name": "ad"}, "mark": {"type": "line", "strokeWidth": 2},
    "encoding": {
     "x": {"field": "x", "type": "quantitative", "scale": {"domain": [-0.04, 1.04], "reverse": true, "nice": false, "zero": false},
      "axis": {"title": "Specificity", "values": [0, 0.2, 0.4, 0.6, 0.8, 1], "format": ".1f", "labelPadding": 8, "titleY": 55, "titleBaseline": "alphabetic", "labelFlush": false, "labelOverlap": false}},
     "y": {"field": "y", "type": "quantitative", "scale": {"domain": [-0.04, 1.04], "nice": false, "zero": false},
      "axis": {"title": "Sensitivity", "values": [0, 0.2, 0.4, 0.6, 0.8, 1], "format": ".1f", "labelAngle": -90, "labelAlign": "center", "labelBaseline": "bottom", "labelPadding": 12, "titleX": -40, "titleY": 163, "titleBaseline": "alphabetic", "titleAngle": -90, "labelFlush": false, "labelOverlap": false}},
     "color": {"field": "s", "type": "nominal", "legend": {"title": null},
      "scale": {"domain": ["10:11720308","11:47380340","11:59936926","11:85868640","11:121435587","14:53391680","14:92932828","15:59045774","16:19808163","16:81942028","17:44353222","17:61538148","19:1056492","19:45411941","19:45412079","1:207802552","20:54997568","21:28156856","2:127892810","2:233981912","4:11711232","5:88223420","6:32578530","6:47431284","7:37841534","7:100091795","7:143107876","8:27219987","8:27467686"],
       "range": ["#00FFFF","#000000","#FF0000","#00CD00","#FFFF00","#BEBEBE","#0000FF","#FF00FF","#00FFFF","#000000","#FF0000","#00CD00","#FFFF00","#BEBEBE","#0000FF","#FF00FF","#00FFFF","#000000","#FF0000","#00CD00","#FFFF00","#BEBEBE","#0000FF","#FF00FF","#00FFFF","#000000","#FF0000","#00CD00","#FFFF00"]}},
     "strokeDash": {"field": "s", "type": "nominal", "legend": {"title": null},
      "scale": {"domain": ["10:11720308","11:47380340","11:59936926","11:85868640","11:121435587","14:53391680","14:92932828","15:59045774","16:19808163","16:81942028","17:44353222","17:61538148","19:1056492","19:45411941","19:45412079","1:207802552","20:54997568","21:28156856","2:127892810","2:233981912","4:11711232","5:88223420","6:32578530","6:47431284","7:37841534","7:100091795","7:143107876","8:27219987","8:27467686"],
       "range": [[1,0],[1,0],[1,0],[1,0],[1,0],[1,0],[1,0],[1,0],[7,5],[7,5],[7,5],[7,5],[7,5],[7,5],[7,5],[7,5],[2,4],[2,4],[2,4],[2,4],[2,4],[2,4],[2,4],[2,4],[2,4,7,4],[2,4,7,4],[2,4,7,4],[2,4,7,4],[2,4,7,4]]}}
    }}
  ]
 },
 {
  "title": "AUC ~ Resilience status",
  "width": 267, "height": 326,
  "layer": [
   {"data": {"name": "grid"}, "mark": {"type": "rule", "color": "#dcdcdc", "strokeWidth": 1},
    "encoding": {"x": {"field": "g", "type": "quantitative", "scale": {"domain": [-0.04, 1.04], "reverse": true, "nice": false, "zero": false},
      "axis": {"title": "Specificity", "values": [0, 0.2, 0.4, 0.6, 0.8, 1], "format": ".1f", "labelPadding": 8, "titleY": 55, "titleBaseline": "alphabetic", "labelFlush": false, "labelOverlap": false}}}},
   {"data": {"name": "grid"}, "mark": {"type": "rule", "color": "#dcdcdc", "strokeWidth": 1},
    "encoding": {"y": {"field": "g", "type": "quantitative", "scale": {"domain": [-0.04, 1.04], "nice": false, "zero": false},
      "axis": {"title": null, "values": [0, 0.2, 0.4, 0.6, 0.8, 1], "format": ".1f", "labelAngle": -90, "labelAlign": "center", "labelBaseline": "bottom", "labelPadding": 12, "labelFlush": false, "labelOverlap": false}}}},
   {"data": {"name": "res"}, "mark": {"type": "line", "strokeWidth": 2},
    "encoding": {
     "x": {"field": "x", "type": "quantitative", "scale": {"domain": [-0.04, 1.04], "reverse": true, "nice": false, "zero": false},
      "axis": {"title": "Specificity", "values": [0, 0.2, 0.4, 0.6, 0.8, 1], "format": ".1f", "labelPadding": 8, "titleY": 55, "titleBaseline": "alphabetic", "labelFlush": false, "labelOverlap": false}},
     "y": {"field": "y", "type": "quantitative", "scale": {"domain": [-0.04, 1.04], "nice": false, "zero": false},
      "axis": {"title": null, "values": [0, 0.2, 0.4, 0.6, 0.8, 1], "format": ".1f", "labelAngle": -90, "labelAlign": "center", "labelBaseline": "bottom", "labelPadding": 12, "labelFlush": false, "labelOverlap": false}},
     "color": {"field": "s", "type": "nominal", "legend": {"title": null},
      "scale": {"domain": ["10:11720308","11:47380340","11:59936926","11:85868640","11:121435587","14:53391680","14:92932828","15:59045774","16:19808163","16:81942028","17:44353222","17:61538148","19:1056492","19:45411941","19:45412079","1:207802552","20:54997568","21:28156856","2:127892810","2:233981912","4:11711232","5:88223420","6:32578530","6:47431284","7:37841534","7:100091795","7:143107876","8:27219987","8:27467686"],
       "range": ["#00FFFF","#000000","#FF0000","#00CD00","#FFFF00","#BEBEBE","#0000FF","#FF00FF","#00FFFF","#000000","#FF0000","#00CD00","#FFFF00","#BEBEBE","#0000FF","#FF00FF","#00FFFF","#000000","#FF0000","#00CD00","#FFFF00","#BEBEBE","#0000FF","#FF00FF","#00FFFF","#000000","#FF0000","#00CD00","#FFFF00"]}},
     "strokeDash": {"field": "s", "type": "nominal", "legend": {"title": null},
      "scale": {"domain": ["10:11720308","11:47380340","11:59936926","11:85868640","11:121435587","14:53391680","14:92932828","15:59045774","16:19808163","16:81942028","17:44353222","17:61538148","19:1056492","19:45411941","19:45412079","1:207802552","20:54997568","21:28156856","2:127892810","2:233981912","4:11711232","5:88223420","6:32578530","6:47431284","7:37841534","7:100091795","7:143107876","8:27219987","8:27467686"],
       "range": [[1,0],[1,0],[1,0],[1,0],[1,0],[1,0],[1,0],[1,0],[7,5],[7,5],[7,5],[7,5],[7,5],[7,5],[7,5],[7,5],[2,4],[2,4],[2,4],[2,4],[2,4],[2,4],[2,4],[2,4],[2,4,7,4],[2,4,7,4],[2,4,7,4],[2,4,7,4],[2,4,7,4]]}}
    }}
  ]
 }
]
}
